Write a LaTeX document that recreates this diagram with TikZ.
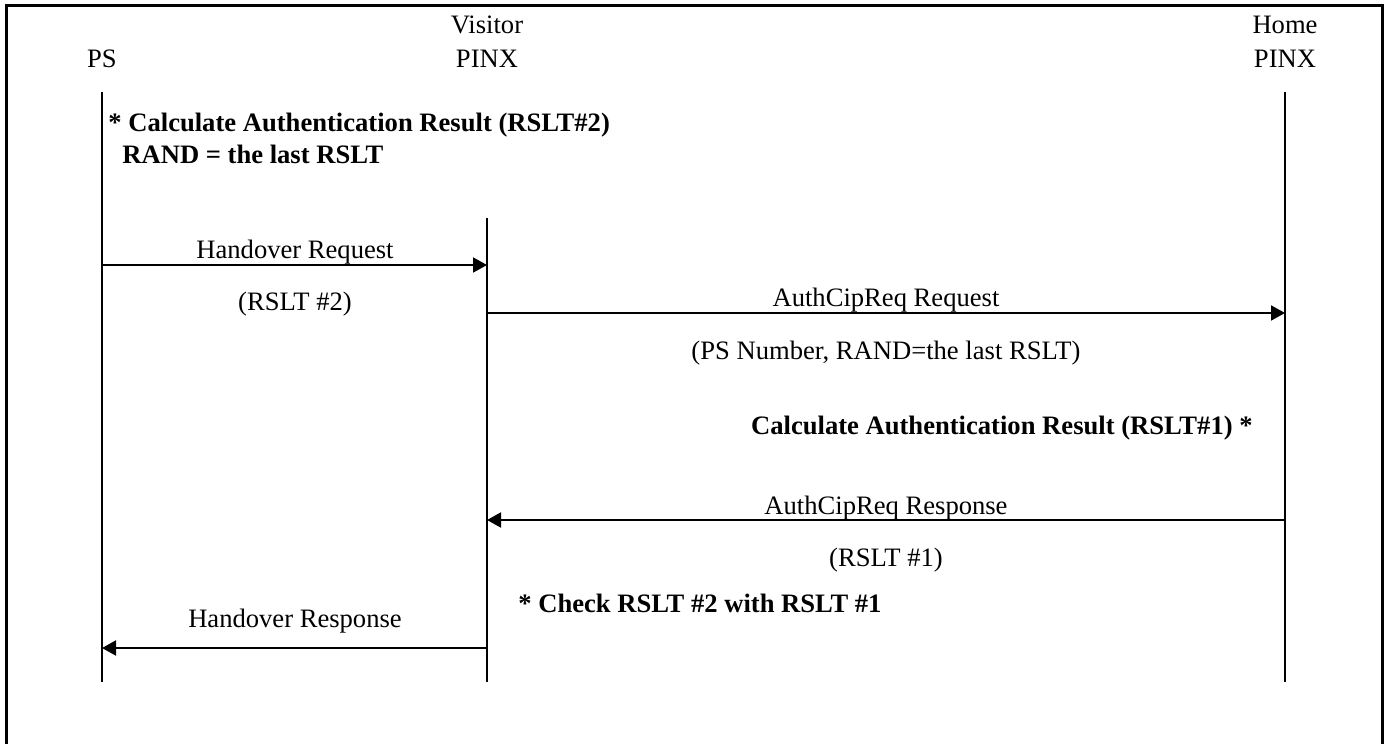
\documentclass[tikz,border=0pt]{standalone}
\usepackage{fontspec}
\setmainfont{Liberation Serif}
\usetikzlibrary{arrows.meta,positioning,calc}

\begin{document}
\begin{tikzpicture}[x=0.5pt,y=-0.5pt,
  font=\fontsize{13.3}{17}\selectfont,
  lbl/.style={anchor=base,inner sep=0pt},
  note/.style={anchor=base west,inner sep=0pt,font=\fontsize{13.3}{17}\selectfont\bfseries},
  life/.style={line width=1pt},
  msg/.style={line width=1pt,-{Triangle[length=7pt,width=7.5pt]}}]
  \useasboundingbox (0,0) rectangle (1388,744);
  \draw[line width=1.5pt] (6,760) |- (1382,5) -- (1382,760);
  % parties
  \node[lbl] (ps) at (102,67) {PS};
  \node[lbl] (vtop) at (487,33) {Visitor};
  \node[lbl] (vpinx) at (487,67) {PINX};
  \node[lbl] (htop) at (1285,33) {Home};
  \node[lbl] (hpinx) at (1285,67) {PINX};
  % life lines
  \coordinate (psA) at (102,92);   \coordinate (psB) at (102,682);
  \coordinate (vA) at (487,218);   \coordinate (vB) at (487,682);
  \coordinate (hA) at (1285,92);   \coordinate (hB) at (1285,682);
  \draw[life] (psA) -- (psB);
  \draw[life] (vA) -- (vB);
  \draw[life] (hA) -- (hB);
  % messages
  \coordinate (m1s) at (102,265);  \coordinate (m1e) at (487,265);
  \coordinate (m2s) at (487,313);  \coordinate (m2e) at (1285,313);
  \coordinate (m3s) at (1285,520); \coordinate (m3e) at (487,520);
  \coordinate (m4s) at (487,648);  \coordinate (m4e) at (102,648);
  \draw[msg] (m1s) -- (m1e);
  \draw[msg] (m2s) -- (m2e);
  \draw[msg] (m3s) -- (m3e);
  \draw[msg] (m4s) -- (m4e);
  \node[lbl] (m1t) at (295,258) {Handover Request};
  \node[lbl] (m1p) at (295,310) {(RSLT \#2)};
  \node[lbl] (m2t) at (886,306) {AuthCipReq Request};
  \node[lbl] (m2p) at (886,359) {(PS Number, RAND=the last RSLT)};
  \node[lbl] (m3t) at (886,514) {AuthCipReq Response};
  \node[lbl] (m3p) at (886,566) {(RSLT \#1)};
  \node[lbl] (m4t) at (295,627) {Handover Response};
  % actions
  \node[note] (n1) at (108,131) {* Calculate Authentication Result (RSLT\#2)};
  \node[note] (n2) at (122,163) {RAND = the last RSLT};
  \node[note,anchor=base east] (n3) at (1253,434) {Calculate Authentication Result (RSLT\#1) *};
  \node[note] (n4) at (518,612) {* Check RSLT \#2 with RSLT \#1};
\end{tikzpicture}
\end{document}
